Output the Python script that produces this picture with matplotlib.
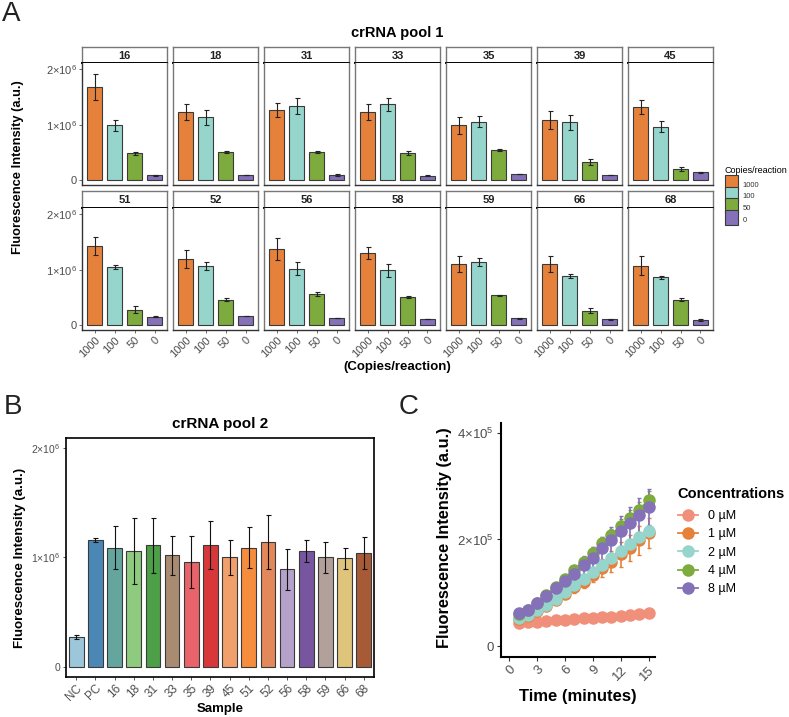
import numpy as np
import matplotlib.pyplot as plt
from matplotlib.patches import Patch, Rectangle
from matplotlib.lines import Line2D
from matplotlib.legend_handler import HandlerPatch

plt.rcParams['font.family'] = ['Liberation Sans', 'DejaVu Sans']
plt.rcParams['mathtext.fontset'] = 'custom'
plt.rcParams['mathtext.rm'] = 'Liberation Sans'
plt.rcParams['mathtext.it'] = 'Liberation Sans:italic'
plt.rcParams['mathtext.bf'] = 'Liberation Sans:bold'

# ---- Panel A: crRNA pool 1 (values x1e6) ----
samples_A = ['16', '18', '31', '33', '35', '39', '45',
             '51', '52', '56', '58', '59', '66', '68']
copies = ['1000', '100', '50', '0']
mean_1000 = [1.68, 1.23, 1.27, 1.23, 0.99, 1.08, 1.32, 1.43, 1.19, 1.37, 1.30, 1.10, 1.10, 1.07]
sd_1000 = [0.24, 0.14, 0.13, 0.14, 0.15, 0.16, 0.13, 0.16, 0.16, 0.20, 0.11, 0.14, 0.14, 0.17]
mean_100 = [0.99, 1.13, 1.34, 1.37, 1.05, 1.04, 0.96, 1.05, 1.07, 1.02, 0.99, 1.14, 0.89, 0.86]
sd_100 = [0.10, 0.14, 0.14, 0.12, 0.10, 0.13, 0.10, 0.03, 0.07, 0.11, 0.12, 0.08, 0.04, 0.03]
mean_50 = [0.48, 0.50, 0.50, 0.49, 0.54, 0.33, 0.20, 0.28, 0.46, 0.56, 0.50, 0.54, 0.26, 0.46]
sd_50 = [0.02, 0.02, 0.02, 0.03, 0.02, 0.05, 0.04, 0.06, 0.02, 0.03, 0.02, 0.01, 0.05, 0.02]
mean_0 = [0.085, 0.09, 0.09, 0.08, 0.11, 0.09, 0.14, 0.15, 0.16, 0.13, 0.11, 0.12, 0.10, 0.09]
sd_0 = [0.005, 0.005, 0.01, 0.005, 0.005, 0.005, 0.005, 0.01, 0.005, 0.005, 0.005, 0.005, 0.005, 0.01]
colors_A = ['#E6813B', '#95D5CB', '#7DAB3D', '#8571B8']

# ---- Panel B: crRNA pool 2 (values x1e6) ----
samples_B = ['NC', 'PC', '16', '18', '31', '33', '35', '39', '45',
             '51', '52', '56', '58', '59', '66', '68']
mean_B = [0.27, 1.16, 1.09, 1.06, 1.11, 1.02, 0.96, 1.11, 1.00, 1.09, 1.14, 0.89, 1.06, 1.00, 0.99, 1.04]
sd_B = [0.02, 0.015, 0.20, 0.30, 0.25, 0.18, 0.24, 0.22, 0.16, 0.19, 0.25, 0.19, 0.10, 0.14, 0.10, 0.15]
colors_B = ['#9CC7DB', '#4A87B4', '#64A69E', '#8ECB7F', '#4D9F48', '#A98B72',
            '#E8636A', '#D8383A', '#F2A06B', '#F68D3C', '#E2885A', '#B5A2CB',
            '#77559F', '#B2A09A', '#DFC47C', '#A75A36']

# ---- Panel C: time course (values x1e3) ----
time_min = [1, 2, 3, 4, 5, 6, 7, 8, 9, 10, 11, 12, 13, 14, 15]
conc_labels = ['0 µM', '1 µM', '2 µM', '4 µM', '8 µM']
f_0uM = [43, 45, 46, 47, 48, 49, 50, 52, 53, 54, 55, 57, 58, 60, 62]
e_0uM = [2, 2, 2, 2, 2, 2, 2, 2, 2, 3, 3, 3, 3, 3, 3]
f_1uM = [50, 56, 66, 75, 86, 98, 110, 121, 134, 146, 158, 172, 184, 198, 212]
e_1uM = [3, 4, 5, 6, 7, 8, 10, 12, 14, 17, 20, 23, 25, 27, 29]
f_2uM = [52, 58, 68, 77, 89, 102, 114, 126, 139, 152, 165, 179, 191, 205, 216]
e_2uM = [2, 3, 3, 4, 4, 5, 5, 6, 6, 7, 7, 8, 8, 9, 9]
f_4uM = [60, 67, 80, 96, 111, 126, 143, 158, 175, 193, 208, 226, 241, 256, 274]
e_4uM = [3, 3, 4, 5, 6, 7, 8, 9, 10, 11, 12, 13, 14, 15, 16]
f_8uM = [62, 67, 80, 94, 108, 122, 136, 152, 166, 183, 199, 216, 230, 245, 261]
e_8uM = [3, 4, 5, 6, 8, 10, 13, 16, 20, 22, 25, 28, 30, 32, 34]
colors_C = ['#F0907A', '#E6813B', '#95D5CB', '#7DAB3D', '#8571B8']

W, H = 789, 717
fig = plt.figure(figsize=(W / 100, H / 100), dpi=100)


def box(x0, y0, x1, y1):
    return [x0 / W, 1 - y1 / H, (x1 - x0) / W, (y1 - y0) / H]


def full_key(legend, orig_handle, xdescent, ydescent, width, height, fontsize):
    # legend key that fills the whole row, like ggplot's touching keys
    return Rectangle((-xdescent, -ydescent), width, height + ydescent)


tick_gray = '#4D4D4D'

# ---------------- Panel A ----------------
for i, s in enumerate(samples_A):
    row, col = divmod(i, 7)
    x0 = 82 + 91 * col
    x1 = x0 + 85
    if row == 0:
        sy0, sy1, py1 = 47, 63, 185
    else:
        sy0, sy1, py1 = 191, 208, 330
    strip = fig.add_axes(box(x0, sy0, x1, sy1))
    strip.set_xticks([])
    strip.set_yticks([])
    for sp in strip.spines.values():
        sp.set_color('#777777')
        sp.set_linewidth(1.0)
    strip.spines['bottom'].set_color('black')
    strip.spines['bottom'].set_linewidth(1.4)
    strip.text(0.5, 0.45, s, ha='center', va='center', fontsize=8,
               fontweight='bold', color='#222222', transform=strip.transAxes)

    ax = fig.add_axes(box(x0, sy1, x1, py1))
    vals = np.array([mean_1000[i], mean_100[i], mean_50[i], mean_0[i]]) * 1e6
    errs = np.array([sd_1000[i], sd_100[i], sd_50[i], sd_0[i]]) * 1e6
    xs = np.arange(4)
    ax.bar(xs, vals, width=0.72, color=colors_A, edgecolor='#3a3a3a', linewidth=0.8)
    ax.errorbar(xs, vals, yerr=errs, fmt='none', ecolor='#222222',
                elinewidth=0.8, capsize=1.8, capthick=0.8)
    ax.set_xlim(-0.625, 3.625)
    ax.set_ylim(-0.09e6, 2.115e6)
    for sp in ax.spines.values():
        sp.set_color('#777777')
        sp.set_linewidth(1.0)
    ax.spines['top'].set_visible(False)
    ax.spines['bottom'].set_color('#333333')
    ax.tick_params(length=2, width=0.6, color='#555555', labelcolor=tick_gray, pad=1.5)
    ax.set_yticks([0, 1e6, 2e6])
    if col == 0:
        ax.spines['left'].set_color('#333333')
        ax.set_yticklabels(['0', '1×10$^6$', '2×10$^6$'], fontsize=8)
    else:
        ax.tick_params(axis='y', length=0)
        ax.set_yticklabels([])
    ax.set_xticks(xs)
    if row == 1:
        ax.set_xticklabels(copies, rotation=45, ha='right', rotation_mode='anchor', fontsize=8)
    else:
        ax.tick_params(axis='x', length=0)
        ax.set_xticklabels([])

fig.text(397 / W, 1 - 33 / H, 'crRNA pool 1', ha='center', va='center',
         fontsize=10.5, fontweight='bold')
fig.text(397 / W, 1 - 367 / H, '(Copies/reaction)', ha='center', va='center',
         fontsize=9.5, fontweight='bold')
fig.text(18 / W, 1 - 167 / H, 'Fluorescence Intensity (a.u.)', ha='center', va='center',
         rotation=90, fontsize=9.3, fontweight='bold')

handles_A = [Patch(facecolor=c, edgecolor='#3a3a3a', linewidth=0.8) for c in colors_A]
leg_a = fig.legend(handles_A, copies, title='Copies/reaction', loc='upper left',
                   bbox_to_anchor=(723 / W, 1 - 164 / H), frameon=False,
                   fontsize=5.5, title_fontsize=6.5, handlelength=1.8, handleheight=1.95,
                   labelspacing=0.0, handletextpad=0.6, borderaxespad=0, borderpad=0.2,
                   handler_map={Patch: HandlerPatch(patch_func=full_key)})
leg_a._legend_box.align = 'left'
leg_a._legend_box.sep = 3
for t in leg_a.get_texts():
    t.set_color('#333333')

# ---------------- Panel B ----------------
axb = fig.add_axes(box(65.7, 438.3, 374.3, 676.7))
xb = np.arange(len(samples_B))
mb = np.array(mean_B) * 1e6
eb = np.array(sd_B) * 1e6
axb.bar(xb, mb, width=0.77, color=colors_B, edgecolor='#3a3a3a', linewidth=0.8)
axb.errorbar(xb, mb, yerr=eb, fmt='none', ecolor='#111111', elinewidth=0.8,
             capsize=1.8, capthick=0.8)
axb.set_xlim(-0.55, 15.55)
axb.set_ylim(-0.092e6, 2.09e6)
for sp in axb.spines.values():
    sp.set_color('black')
    sp.set_linewidth(1.2)
axb.set_yticks([0, 1e6, 2e6])
axb.set_yticklabels(['0', '1×10$^6$', '2×10$^6$'], fontsize=7.5)
axb.set_xticks(xb)
axb.set_xticklabels(samples_B, rotation=45, ha='right', rotation_mode='anchor', fontsize=8.5)
axb.tick_params(length=2.5, width=0.7, color='#555555', labelcolor=tick_gray, pad=1.5)
fig.text(220 / W, 1 - 424 / H, 'crRNA pool 2', ha='center', va='center',
         fontsize=11, fontweight='bold')
fig.text(220 / W, 1 - 709 / H, 'Sample', ha='center', va='center',
         fontsize=9.5, fontweight='bold')
fig.text(20.5 / W, 1 - 558 / H, 'Fluorescence Intensity (a.u.)', ha='center', va='center',
         rotation=90, fontsize=9.6, fontweight='bold')

# ---------------- Panel C ----------------
axc = fig.add_axes(box(501, 422.7, 655, 656.7))
series_C = [f_0uM, f_1uM, f_2uM, f_4uM, f_8uM]
errs_C = [e_0uM, e_1uM, e_2uM, e_4uM, e_8uM]
for vals, errs, col in zip(series_C, errs_C, colors_C):
    v = np.array(vals) * 1e3
    e = np.array(errs) * 1e3
    axc.errorbar(time_min, v, yerr=e, color=col, marker='o', markersize=8,
                 linewidth=1.3, elinewidth=1.2, capsize=1.5, capthick=1.0)
axc.set_xlim(-0.9, 15.7)
axc.set_ylim(-0.2e5, 4.19e5)
axc.spines['top'].set_visible(False)
axc.spines['right'].set_visible(False)
axc.spines['left'].set_linewidth(1.5)
axc.spines['bottom'].set_linewidth(1.5)
axc.set_xticks([0, 3, 6, 9, 12, 15])
axc.set_xticklabels(['0', '3', '6', '9', '12', '15'], rotation=45, ha='right',
                    rotation_mode='anchor', fontsize=9.5)
axc.set_yticks([0, 2e5, 4e5])
axc.set_yticklabels(['0', '2×10$^5$', '4×10$^5$'], fontsize=9.5)
axc.tick_params(length=3, width=0.8, color='#333333', labelcolor=tick_gray, pad=2)
fig.text(578 / W, 1 - 697 / H, 'Time (minutes)', ha='center', va='center',
         fontsize=12, fontweight='bold')
fig.text(445 / W, 1 - 538 / H, 'Fluorescence Intensity (a.u.)', ha='center', va='center',
         rotation=90, fontsize=11.8, fontweight='bold')

handles_C = [Line2D([0], [0], color=c, marker='o', markersize=8, linewidth=1.3)
             for c in colors_C]
leg_c = fig.legend(handles_C, conc_labels, title='Concentrations', loc='upper left',
                   bbox_to_anchor=(675 / W, 1 - 484 / H), frameon=False, fontsize=9,
                   title_fontproperties={'weight': 'bold', 'size': 10.5},
                   handlelength=1.6, labelspacing=0.5, handletextpad=0.8,
                   borderaxespad=0, borderpad=0.2)
leg_c._legend_box.align = 'left'
leg_c._legend_box.sep = 7

# panel letters
fig.text(2 / W, 1 - 14 / H, 'A', ha='left', va='center', fontsize=20, color='#222222')
fig.text(4 / W, 1 - 407 / H, 'B', ha='left', va='center', fontsize=20, color='#222222')
fig.text(399 / W, 1 - 407 / H, 'C', ha='left', va='center', fontsize=20, color='#222222')

fig.savefig('out.png', dpi=100)
